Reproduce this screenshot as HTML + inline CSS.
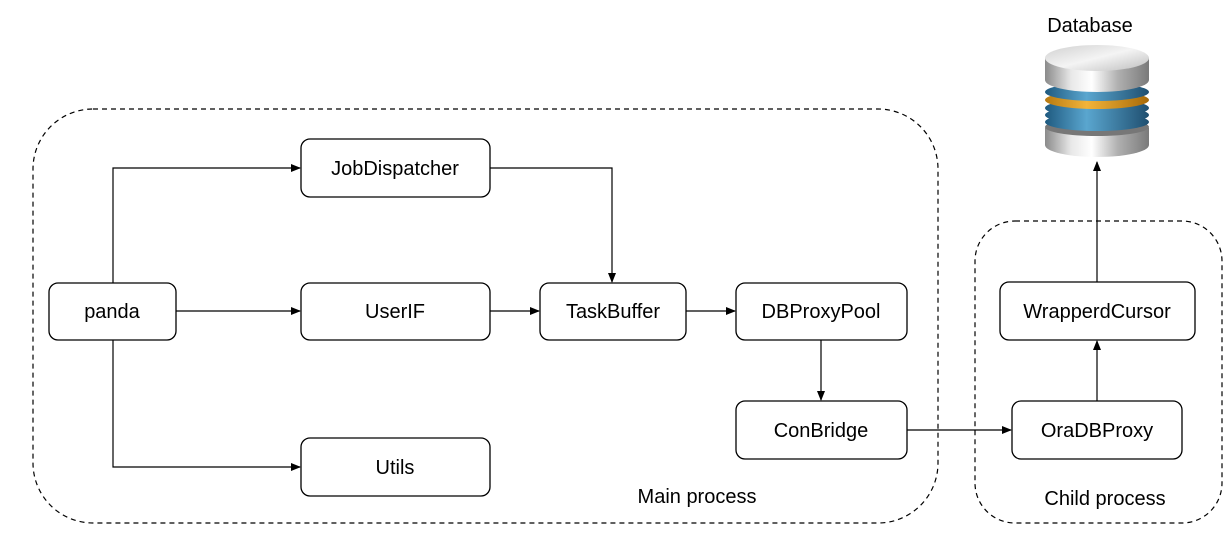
<!DOCTYPE html>
<html><head><style>
body{margin:0;background:#fff;}
svg text{font-family:"Liberation Sans",Arial,sans-serif;font-size:20px;fill:#000;}
</style></head><body>
<svg width="1231" height="554" viewBox="0 0 1231 554" xmlns="http://www.w3.org/2000/svg">
<defs>
<marker id="a" markerWidth="10" markerHeight="8" refX="9" refY="4" orient="auto" markerUnits="userSpaceOnUse">
<path d="M0,0 L10,4 L0,8 z" fill="#000"/></marker>
<linearGradient id="metal" x1="0" x2="1" y1="0" y2="0">
<stop offset="0" stop-color="#8a8a8a"/><stop offset="0.25" stop-color="#e8e8e8"/><stop offset="0.45" stop-color="#ffffff"/><stop offset="0.7" stop-color="#b0b0b0"/><stop offset="1" stop-color="#7a7a7a"/></linearGradient>
<linearGradient id="top" x1="0" x2="1" y1="0" y2="1">
<stop offset="0" stop-color="#d0d0d0"/><stop offset="0.5" stop-color="#f4f4f4"/><stop offset="1" stop-color="#bdbdbd"/></linearGradient>
<linearGradient id="blue" x1="0" x2="1"><stop offset="0" stop-color="#1f5a80"/><stop offset="0.4" stop-color="#5aa6cf"/><stop offset="1" stop-color="#1f4f70"/></linearGradient>
<linearGradient id="orange" x1="0" x2="1"><stop offset="0" stop-color="#b87a10"/><stop offset="0.4" stop-color="#f2b43a"/><stop offset="1" stop-color="#a86a08"/></linearGradient>
</defs>
<g fill="none" stroke="#000" stroke-width="1.2" stroke-dasharray="5,4">
<rect x="33" y="109" width="905" height="414" rx="60"/>
<rect x="975" y="221" width="247" height="302" rx="40"/>
</g>
<g fill="#fff" stroke="#000" stroke-width="1.3">
<rect x="49" y="283" width="127" height="57" rx="9"/>
<rect x="301" y="139" width="189" height="58" rx="9"/>
<rect x="301" y="283" width="189" height="57" rx="9"/>
<rect x="301" y="438" width="189" height="58" rx="9"/>
<rect x="540" y="283" width="146" height="57" rx="9"/>
<rect x="736" y="283" width="171" height="57" rx="9"/>
<rect x="736" y="401" width="171" height="58" rx="9"/>
<rect x="1012" y="401" width="170" height="58" rx="9"/>
<rect x="1000" y="282" width="195" height="58" rx="9"/>
</g>
<g fill="none" stroke="#000" stroke-width="1.2">
<path d="M113 283 V168 H300" marker-end="url(#a)"/>
<path d="M113 340 V467 H300" marker-end="url(#a)"/>
<path d="M176 311 H300" marker-end="url(#a)"/>
<path d="M490 311 H539" marker-end="url(#a)"/>
<path d="M490 168 H612 V282" marker-end="url(#a)"/>
<path d="M686 311 H735" marker-end="url(#a)"/>
<path d="M821 340 V400" marker-end="url(#a)"/>
<path d="M907 430 H1011" marker-end="url(#a)"/>
<path d="M1097 401 V341" marker-end="url(#a)"/>
<path d="M1097 282 V162" marker-end="url(#a)"/>
</g>
<g text-anchor="middle">
<text x="112" y="318">panda</text>
<text x="395" y="175">JobDispatcher</text>
<text x="395" y="318">UserIF</text>
<text x="395" y="474">Utils</text>
<text x="613" y="318">TaskBuffer</text>
<text x="821" y="318">DBProxyPool</text>
<text x="821" y="437">ConBridge</text>
<text x="1097" y="437">OraDBProxy</text>
<text x="1097" y="318">WrapperdCursor</text>
<text x="697" y="503">Main process</text>
<text x="1105" y="505">Child process</text>
<text x="1090" y="32">Database</text>
</g>
<g>
<path d="M1045 128 V145 A52 12 0 0 0 1149 145 V128 Z" fill="url(#metal)"/>
<ellipse cx="1097" cy="127" rx="52" ry="9" fill="#777"/>
<ellipse cx="1097" cy="122" rx="52" ry="9" fill="url(#blue)"/>
<ellipse cx="1097" cy="115" rx="52" ry="9" fill="url(#blue)"/>
<ellipse cx="1097" cy="108" rx="52" ry="9" fill="url(#blue)"/>
<ellipse cx="1097" cy="100" rx="52" ry="9" fill="url(#orange)"/>
<ellipse cx="1097" cy="92" rx="52" ry="9" fill="url(#blue)"/>
<path d="M1045 58 V80 A52 12 0 0 0 1149 80 V58 Z" fill="url(#metal)"/>
<ellipse cx="1097" cy="58" rx="52" ry="13" fill="url(#top)"/>
</g>
</svg>
</body></html>
